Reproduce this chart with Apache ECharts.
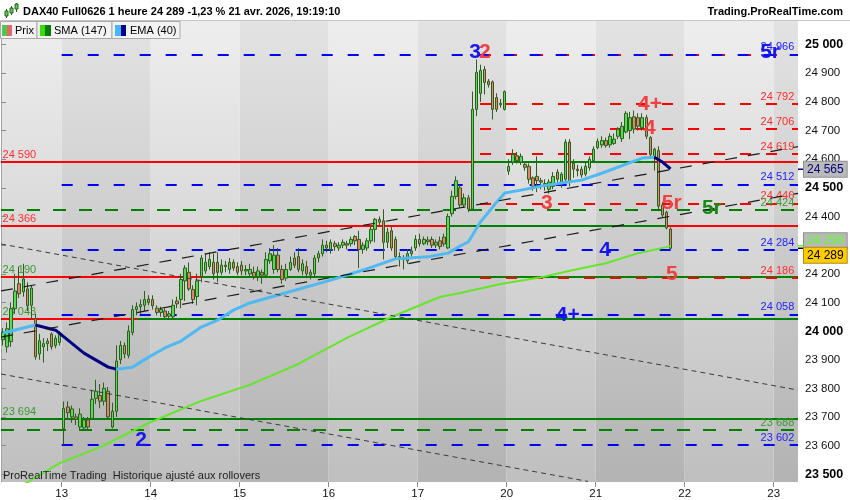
<!DOCTYPE html>
<html>
<head>
<meta charset="utf-8">
<title>DAX40 Full0626 1 heure</title>
<script src="https://cdn.jsdelivr.net/npm/echarts@6.0.0/dist/echarts.min.js"></script>
<style>
html,body{margin:0;padding:0;background:#fff;}
#chart{width:850px;height:500px;}
</style>
</head>
<body>
<div id="chart"></div>
<script>
// ================= DATA =================
const dayLabels = ['13','14','15','16','17','20','21','22','23'];
const dayStartSlots = [15,37,59,81,103,125,147,169,191];
const slotCount = 197;
const yTickValues = [23500,23600,23700,23800,23900,24000,24100,24200,24300,24400,24500,24600,24700,24800,24900,25000];

// hourly candles: [open, close, low, high]
const candles = [
[23970,23995,23950,24010],[23945,24008,23925,24030],[23963,24078,23945,24100],[24078,24140,24060,24200],
[24165,24130,24115,24225],[24137,24182,24120,24235],[24147,24088,24070,24170],[24090,24150,24040,24160],
[24043,23910,23900,24060],[23920,23966,23900,23990],[23945,23956,23890,23975],[23956,23965,23930,23975],
[23990,23945,23935,23995],[23950,23975,23940,23985],[23960,23995,23950,24000],
[23660,23730,23603,23754],[23735,23715,23690,23755],[23700,23728,23680,23740],[23700,23692,23672,23712],
[23665,23710,23655,23730],[23662,23690,23655,23700],[23690,23665,23655,23700],[23695,23762,23690,23795],
[23765,23790,23745,23830],[23775,23755,23730,23815],[23755,23800,23740,23820],[23790,23700,23690,23805],
[23665,23720,23660,23750],[23720,23895,23700,23950],[23900,23950,23885,23965],[23950,23920,23905,23960],
[23915,24000,23905,24020],[23995,24075,23985,24090],[24075,24085,24055,24100],[24085,24092,24060,24110],
[24090,24110,24070,24140],[24112,24100,24090,24125],
[24110,24088,24075,24125],[24080,24065,24055,24090],[24065,24075,24050,24085],[24070,24050,24045,24080],
[24052,24060,24040,24070],[24050,24090,24040,24110],[24105,24095,24080,24120],[24110,24180,24080,24200],
[24175,24220,24105,24230],[24205,24147,24140,24240],[24145,24110,24095,24160],[24120,24175,24090,24200],
[24190,24255,24170,24265],[24210,24240,24200,24270],[24225,24250,24215,24275],[24240,24200,24180,24270],
[24240,24205,24170,24275],[24205,24230,24195,24250],[24230,24225,24205,24245],[24215,24240,24200,24255],
[24240,24220,24210,24250],[24225,24205,24195,24240],
[24230,24210,24195,24245],[24210,24215,24195,24230],[24200,24215,24190,24235],[24205,24190,24180,24225],
[24190,24210,24175,24225],[24205,24195,24165,24215],[24195,24250,24185,24275],[24245,24270,24235,24290],
[24215,24265,24200,24300],[24265,24215,24205,24290],[24215,24180,24165,24230],[24185,24215,24175,24235],
[24215,24240,24210,24260],[24255,24230,24220,24275],[24260,24215,24205,24290],[24210,24235,24195,24250],
[24225,24200,24185,24245],[24195,24205,24180,24215],[24200,24255,24185,24265],[24255,24270,24240,24280],
[24270,24300,24260,24320],[24300,24290,24275,24315],
[24285,24310,24270,24320],[24305,24295,24280,24315],[24290,24300,24280,24310],[24300,24310,24290,24320],
[24305,24300,24285,24315],[24305,24320,24295,24330],[24330,24315,24300,24335],[24320,24285,24220,24350],
[24285,24300,24270,24310],[24290,24315,24280,24325],[24315,24355,24305,24365],[24355,24390,24310,24395],
[24390,24380,24370,24400],[24385,24310,24250,24425],[24310,24345,24290,24360],[24350,24290,24280,24365],
[24320,24260,24250,24330],[24260,24255,24225,24275],[24255,24250,24215,24265],[24245,24270,24235,24285],
[24270,24280,24260,24295],[24290,24320,24280,24335],
[24320,24305,24295,24340],[24305,24320,24300,24330],[24318,24312,24300,24330],[24320,24300,24290,24330],
[24300,24310,24290,24320],[24315,24295,24285,24330],[24328,24304,24295,24340],[24290,24400,24286,24410],
[24410,24470,24400,24490],[24470,24525,24460,24540],[24500,24440,24430,24510],[24440,24465,24430,24480],
[24465,24426,24415,24475],[24426,24774,24419,24836],[24774,24903,24750,24948],[24830,24910,24800,24930],
[24913,24868,24826,24925],[24872,24860,24850,24880],[24870,24774,24739,24875],[24815,24774,24765,24830],
[24790,24795,24780,24810],[24774,24836,24770,24840],
[24558,24575,24545,24600],[24590,24617,24580,24635],[24612,24595,24585,24625],[24590,24610,24580,24620],
[24582,24572,24560,24590],[24575,24530,24515,24585],[24535,24505,24490,24540],[24540,24525,24485,24610],
[24525,24520,24495,24535],[24515,24505,24490,24530],[24495,24520,24480,24530],[24505,24540,24495,24555],
[24555,24530,24515,24565],[24520,24548,24500,24555],[24530,24660,24520,24670],[24660,24520,24505,24670],
[24585,24565,24535,24600],[24565,24560,24540,24580],[24565,24545,24535,24575],[24548,24575,24540,24590],
[24570,24600,24560,24610],[24595,24635,24590,24645],
[24640,24662,24635,24672],[24650,24665,24640,24680],[24665,24648,24640,24675],[24650,24680,24640,24690],
[24655,24670,24650,24690],[24680,24705,24670,24712],[24672,24715,24660,24730],[24695,24760,24690,24768],
[24700,24745,24670,24765],[24748,24705,24690,24770],[24745,24715,24700,24760],[24710,24745,24700,24760],
[24745,24680,24670,24755],[24676,24617,24605,24680],[24610,24635,24560,24640],[24630,24436,24420,24645],
[24440,24405,24395,24450],[24415,24360,24355,24420],[24356,24289,24285,24362]
];

// moving averages [slot, value]
const smaPoints = [[4,23455],[7,23480],[14,23539],[24,23595],[36,23679],[49,23756],[61,23812],[73,23885],
  [85,23976],[96,24049],[108,24119],[113,24133],[123,24164],[133,24188],[141,24213],[149,24237],[157,24272],[164,24293],[165,24297]];
const emaRiseA = [[0,23993],[4,24007],[8,24021]];
const emaFallA = [[8,24021],[13,24003],[20,23923],[26,23874],[28,23867]];
const emaRiseB = [[28,23867],[32,23874],[36,23909],[40,23941],[44,23965],[49,24014],[53,24038],[57,24073],
  [61,24098],[68,24126],[81,24178],[89,24213],[97,24252],[105,24259],[110,24272],[113,24297],[115,24311],
  [118,24381],[120,24415],[122,24450],[124,24482],[128,24492],[133,24506],[138,24517],[143,24527],
  [148,24551],[154,24583],[158,24604],[161,24607]];
const emaFallB = [[161,24607],[163,24590],[165,24566]];

// horizontal levels: [price, fromSlot, toSlot]
const redSolidLevels = [[24590,0,197],[24366,0,197],[24190,0,49.9],[24043,0,33.6]];
const greenSolidLevels = [[24590,116.4,161.6],[24366,111,164.9],[24190,49.9,197],[24043,33.6,197],[23694,0,197]];
const redDashedLevels = [[24966,118.4,197],[24792,118.4,197],[24706,118.4,197],[24619,118.4,197],[24446,118.4,197],[24186,118.4,197]];
const blueDashedLevels = [[24966,15,197],[24512,15,197],[24284,15,197],[24058,15,197],[23602,15,197]];
const greenDashedLevels = [[24424,0,197],[23655,0,197]];

// trend lines: [slot0, price0, slot1, price1]
const trendUpLines = [[0,24140,197,24644],[0,23979,197,24481]];
const trendDownLines = [[0,24304,197,23794],[0,23850,145.1,23475]];

// level captions [text, price, colour key]
const leftLabels = [['24 590',24590,'red'],['24 366',24366,'red'],['24 190',24190,'green'],['24 043',24043,'green'],['23 694',23694,'green']];
const rightLabels = [['24 966',24966,'blue'],['24 792',24792,'red'],['24 706',24706,'red'],['24 619',24619,'red'],
  ['24 512',24512,'blue'],['24 446',24446,'red'],['24 424',24424,'green'],['24 284',24284,'blue'],
  ['24 186',24186,'red'],['24 058',24058,'blue'],['23 688',23655,'green'],['23 602',23602,'blue']];
// wave annotations [text, slot, price, colour key]
const waveLabels = [['3',117.2,24974,'blue'],['2',119.6,24974,'red'],['5r',190.1,24974,'blue'],
  ['4+',160.4,24792,'red'],['4',160.4,24708,'red'],['3',134.9,24448,'red'],['5r',165.8,24446,'red'],
  ['5r',175.7,24429,'green'],['4',149.3,24284,'blue'],['5',165.8,24199,'red'],['4+',140.1,24055,'blue'],['2',34.6,23620,'blue']];
// last values shown on the price axis: EMA, SMA, last price
const lastTags = [24565, 24298, 24289];

// ================= CHART =================
const FONT = '"Liberation Sans", Arial, Helvetica, sans-serif';
const COL = {red:'#ff0000', blue:'#0000ff', green:'#008000'};
const TXT = {red:'#ff2d2d', blue:'#2323ff', green:'#3a9a32'};
const WAVE = {red:'#f04040', blue:'#1616f0', green:'#178a17'};
const fmt = v => { const s = String(Math.round(v)); return s.slice(0, s.length-3) + ' ' + s.slice(-3); };

const slotNames = Array.from({length: slotCount}, (_, i) => 'h' + i);

function grad(top, bottom){
  return {type:'linear', x:0, y:0, x2:0, y2:1, colorStops:[{offset:0,color:top},{offset:1,color:bottom}]};
}
const bounds = [0].concat(dayStartSlots).concat([slotCount]);
const bandData = [];
for (let i = 0; i < bounds.length - 1; i++) {
  const dark = i % 2 === 1;
  bandData.push([{xAxis: bounds[i], itemStyle:{color: dark ? grad('#e3e3e3','#b3b3b3') : grad('#eeeeee','#bfbfbf')}}, {xAxis: bounds[i+1]}]);
}

function levelSeries(name, levels, style, z){
  return {
    name, type:'line', xAxisIndex:1, data:[], silent:true,
    markLine:{silent:true, z:z, symbol:['none','none'], animation:false, label:{show:false},
      emphasis:{disabled:true}, lineStyle:style,
      data: levels.map(l => [{coord:[l[1], l[0]]}, {coord:[l[2], l[0]]}])}
  };
}
function trendSeries(name, lines, style){
  return {
    name, type:'line', xAxisIndex:1, data:[], silent:true,
    markLine:{silent:true, z:3.5, symbol:['none','none'], animation:false, label:{show:false},
      emphasis:{disabled:true}, lineStyle:style,
      data: lines.map(l => [{coord:[l[0], l[1]]}, {coord:[l[2], l[3]]}])}
  };
}

const levelCaptions = [];
leftLabels.forEach(l => levelCaptions.push({
  coord:[0.5, l[1]], name:l[0],
  label:{position:[0,0], align:'left', verticalAlign:'bottom', offset:[0,-1], color:TXT[l[2]]}
}));
rightLabels.forEach(l => levelCaptions.push({
  coord:[196.2, l[1]], name:l[0],
  label:{position:[0,0], align:'right', verticalAlign:'bottom', offset:[0,-1], color:TXT[l[2]]}
}));

const waveData = waveLabels.map(w => {
  const lab = {color: WAVE[w[3]]};
  if (w[3] === 'green') { lab.textShadowColor = '#35c8c8'; lab.textShadowOffsetX = 2; lab.textShadowOffsetY = 1; lab.textShadowBlur = 0; }
  return {coord:[w[1], w[2]], name:w[0], label:lab};
});

const tagStyles = [
  {color:'#00007f', bg:'#b9b9b9', border:'#8f8f8f', dy:0, tick:'#00007f'},
  {color:'#5cff2a', bg:'#b9b9b9', border:'#8f8f8f', dy:-5, tick:'#5cff2a'},
  {color:'#000000', bg:'#ffcc00', border:'#a88a10', dy:7, tick:'#000000'}
];
const tagElements = [];

const option = {
  animation:false,
  backgroundColor:'#ffffff',
  textStyle:{fontFamily:FONT},
  grid:{left:1, right:52, top:20, bottom:18},
  xAxis:[
    {type:'category', data:slotNames, boundaryGap:true, show:false},
    {type:'value', min:0, max:slotCount, position:'bottom',
      axisLine:{show:false}, splitLine:{show:false},
      axisTick:{show:true, length:5, customValues:dayStartSlots, lineStyle:{color:'#8c8c8c'}},
      axisLabel:{customValues:dayStartSlots, color:'#111', fontSize:11.5, margin:6, fontFamily:FONT,
        formatter: v => dayLabels[dayStartSlots.indexOf(v)] || ''}}
  ],
  yAxis:{type:'value', position:'right', min:23473, max:25086, scale:true,
    axisLine:{show:true, lineStyle:{color:'#a3a3a3', width:1}},
    splitLine:{show:false},
    axisTick:{show:true, length:5, customValues:yTickValues, lineStyle:{color:'#8c8c8c'}},
    axisLabel:{customValues:yTickValues, margin:7, color:'#111', fontSize:11.5, fontFamily:FONT,
      formatter: v => (v % 500 === 0 ? '{b|' + fmt(v) + '}' : fmt(v)),
      rich:{b:{fontWeight:'bold', fontSize:12.5, color:'#000', fontFamily:FONT}}}
  },
  series:[
    {name:'bg', type:'line', xAxisIndex:1, data:[], silent:true,
      markArea:{silent:true, z:0, animation:false, data:bandData}},
    levelSeries('redSolid', redSolidLevels, {color:COL.red, width:2, type:'solid'}, 1),
    levelSeries('greenSolid', greenSolidLevels, {color:COL.green, width:2, type:'solid'}, 1.1),
    levelSeries('redDashed', redDashedLevels, {color:COL.red, width:2, type:[11,15]}, 1.2),
    levelSeries('blueDashed', blueDashedLevels, {color:COL.blue, width:2, type:[11,15]}, 1.3),
    levelSeries('greenDashed', greenDashedLevels, {color:COL.green, width:2, type:[13,13]}, 1.3),
    {name:'captions', type:'line', xAxisIndex:1, data:[], silent:true,
      markPoint:{silent:true, z:1.6, symbol:'circle', symbolSize:1, itemStyle:{color:'rgba(0,0,0,0)'},
        label:{show:true, formatter:'{b}', fontSize:11, fontFamily:FONT}, data:levelCaptions}},
    {name:'Prix', type:'candlestick', data:candles, barWidth:3, z:2,
      itemStyle:{color:'#55dc55', color0:'#e8806c', borderColor:'#2d5e1d', borderColor0:'#2d5e1d', borderWidth:1}},
    {name:'SMA (147)', type:'line', data:smaPoints, symbol:'none', z:3, clip:true,
      lineStyle:{color:'#66e62a', width:2}},
    {name:'EMA (40)', type:'line', data:emaRiseA, symbol:'none', z:3, lineStyle:{color:'#4fb9f2', width:3}},
    {name:'EMA (40) d', type:'line', data:emaFallA, symbol:'none', z:3, lineStyle:{color:'#000080', width:3}},
    {name:'EMA (40) b', type:'line', data:emaRiseB, symbol:'none', z:3, lineStyle:{color:'#4fb9f2', width:3}},
    {name:'EMA (40) e', type:'line', data:emaFallB, symbol:'none', z:3, lineStyle:{color:'#000080', width:3}},
    trendSeries('trendUp', trendUpLines, {color:'#1a1a1a', width:1.2, type:[12,11]}),
    trendSeries('trendDown', trendDownLines, {color:'#3a3a3a', width:1, type:[5,4]}),
    {name:'waves', type:'line', xAxisIndex:1, data:[], silent:true,
      markPoint:{silent:true, z:6, symbol:'circle', symbolSize:1, itemStyle:{color:'rgba(0,0,0,0)'},
        label:{show:true, position:'inside', formatter:'{b}', fontSize:21, fontWeight:'bold', fontFamily:FONT},
        data:waveData}}
  ],
  graphic:[
    {type:'rect', shape:{x:0, y:0, width:850, height:20}, style:{fill:'#ffffff'}, z:100},
    {type:'line', shape:{x1:0, y1:20.5, x2:850, y2:20.5}, style:{stroke:'#c6c6c6', lineWidth:1}, z:101},
    // title icon
    {type:'line', shape:{x1:6.5, y1:9, x2:6.5, y2:18}, style:{stroke:'#2d5e1d', lineWidth:1}, z:101},
    {type:'rect', shape:{x:5, y:11, width:3, height:5}, style:{fill:'#52d652', stroke:'#2d5e1d', lineWidth:1}, z:102},
    {type:'line', shape:{x1:11.5, y1:6, x2:11.5, y2:15}, style:{stroke:'#2d5e1d', lineWidth:1}, z:101},
    {type:'rect', shape:{x:10, y:8, width:3, height:5}, style:{fill:'#52d652', stroke:'#2d5e1d', lineWidth:1}, z:102},
    {type:'line', shape:{x1:16.5, y1:3, x2:16.5, y2:12}, style:{stroke:'#2d5e1d', lineWidth:1}, z:101},
    {type:'rect', shape:{x:15, y:4, width:3, height:5}, style:{fill:'#52d652', stroke:'#2d5e1d', lineWidth:1}, z:102},
    {type:'text', x:23, y:12, style:{text:'DAX40 Full0626 1 heure 24 289 -1,23 % 21 avr. 2026, 19:19:10', fill:'#000',
      font:'bold 11px ' + FONT, textVerticalAlign:'middle', textAlign:'left'}, z:102},
    {type:'text', x:843, y:12, style:{text:'Trading.ProRealTime.com', fill:'#000',
      font:'bold 11px ' + FONT, textVerticalAlign:'middle', textAlign:'right'}, z:102},
    // legend
    {type:'rect', shape:{x:0.5, y:21.5, width:36.5, height:17}, style:{fill:'#f3f3f3', stroke:'#a9a9a9', lineWidth:1}, z:100},
    {type:'rect', shape:{x:37, y:21.5, width:75, height:17}, style:{fill:'#f3f3f3', stroke:'#a9a9a9', lineWidth:1}, z:100},
    {type:'rect', shape:{x:112, y:21.5, width:68, height:17}, style:{fill:'#f3f3f3', stroke:'#a9a9a9', lineWidth:1}, z:100},
    {type:'rect', shape:{x:2, y:25, width:5, height:11}, style:{fill:'#4fc64f'}, z:101},
    {type:'rect', shape:{x:7, y:25, width:5, height:11}, style:{fill:'#e36868'}, z:101},
    {type:'text', x:15, y:30.5, style:{text:'Prix', fill:'#000', font:'11px ' + FONT, textVerticalAlign:'middle'}, z:101},
    {type:'rect', shape:{x:40, y:25, width:5, height:11}, style:{fill:'#38e000'}, z:101},
    {type:'rect', shape:{x:45, y:25, width:6, height:11}, style:{fill:'#0a7a0a'}, z:101},
    {type:'text', x:54, y:30.5, style:{text:'SMA (147)', fill:'#000', font:'11px ' + FONT, textVerticalAlign:'middle'}, z:101},
    {type:'rect', shape:{x:115, y:25, width:6, height:11}, style:{fill:'#45b8fb'}, z:101},
    {type:'rect', shape:{x:121, y:25, width:5, height:11}, style:{fill:'#00008b'}, z:101},
    {type:'text', x:130, y:30.5, style:{text:'EMA (40)', fill:'#000', font:'11px ' + FONT, textVerticalAlign:'middle'}, z:101},
    // footer note
    {type:'text', x:3, y:476, style:{text:'ProRealTime Trading  Historique ajusté aux rollovers', fill:'#1e1e1e',
      font:'11px ' + FONT, textVerticalAlign:'middle'}, z:101}
  ]
};

const chart = echarts.init(document.getElementById('chart'), null, {renderer:'canvas'});
chart.setOption(option);

// price tags on the axis, positioned through the y axis scale
const axisX = chart.convertToPixel({xAxisIndex:1}, slotCount);
const tagGraphics = lastTags.map((v, i) => {
  const y = chart.convertToPixel({yAxisIndex:0}, v);
  const s = tagStyles[i];
  return {type:'group', children:[
    {type:'line', shape:{x1:axisX, y1:y, x2:axisX + 5, y2:y}, style:{stroke:s.tick, lineWidth:1.5}, z:110},
    {type:'text', x:axisX + 6, y:y + s.dy, z:111 + i,
      style:{text:fmt(v), fill:s.color, font:'12px ' + FONT, textVerticalAlign:'middle', textAlign:'left',
        backgroundColor:s.bg, borderColor:s.border, borderWidth:1, padding:[2,3,1,3]}}
  ]};
});
chart.setOption({graphic: option.graphic.concat(tagGraphics)});
</script>
</body>
</html>
